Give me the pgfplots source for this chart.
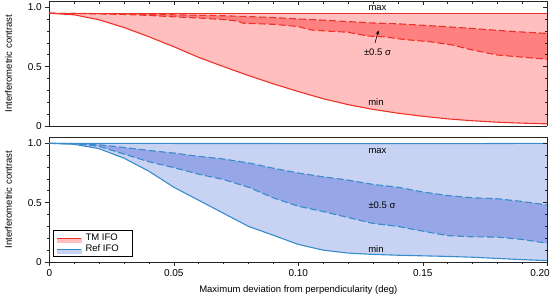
\documentclass[border=0pt]{standalone}
\usepackage{fontspec}
\setmainfont{Liberation Sans}
\usepackage{pgfplots}
\pgfplotsset{compat=1.18}
\usepgfplotslibrary{fillbetween}
\usetikzlibrary{arrows.meta}

\definecolor{redline}{RGB}{238,50,40}
\definecolor{redlight}{RGB}{255,191,191}
\definecolor{reddark}{RGB}{255,128,128}
\definecolor{blueline}{RGB}{55,140,205}
\definecolor{bluelight}{RGB}{200,210,242}
\definecolor{bluedark}{RGB}{150,166,230}

\newcommand{\fs}{\fontsize{9.5}{11}\selectfont}
\newcommand{\ft}{\fontsize{10}{12}\selectfont}

\pgfplotsset{
  panel/.style={scale only axis, width=498pt, height=124.6pt,
    xmin=0, xmax=0.2, ymin=0, ymax=1.05,
    axis line style={line width=0.8pt, black!85},
    tick style={line width=0.6pt, black!85},
    major tick length=4pt, minor tick length=2.5pt,
    ticklabel style={font=\ft},
    label style={font=\fs},
    /pgf/number format/assume math mode=true},
  outer/.style={panel, axis x line*=bottom, axis y line*=left, tick align=outside,
    ytick={0,0.5,1}, yticklabels={0,0.5,1.0}, minor y tick num=4},
  inner/.style={panel, axis x line*=top, axis y line*=right, tick align=inside,
    ytick={0,0.5,1}, yticklabels={}, minor y tick num=4, xticklabels={}},
  solidline/.style={line width=1.1pt},
  dashline/.style={line width=1.1pt, dash pattern=on 7pt off 3pt},
  every axis y label/.style={at={(axis description cs:-0.082,0.5)}, rotate=90, anchor=center},
  every axis x label/.style={at={(axis description cs:0.5,-0.225)}, anchor=center},
}

\begin{document}
\begin{tikzpicture}
% ---------------- top panel (TM IFO) ----------------
\begin{axis}[outer, at={(49.3pt,174pt)}, anchor=south west,
  xtick=\empty, ylabel={Interferometric contrast}]
\addplot[name path=rmax, redline, solidline] coordinates {(0,0.95) (0.2,0.95)};
\addplot[name path=rmin, redline, solidline] coordinates {
 (0,0.95) (0.01,0.937) (0.02,0.895) (0.03,0.83) (0.04,0.752) (0.05,0.668)
 (0.06,0.578) (0.07,0.50) (0.08,0.425) (0.09,0.355) (0.10,0.29) (0.11,0.23)
 (0.12,0.18) (0.13,0.14) (0.14,0.108) (0.15,0.082) (0.16,0.06) (0.17,0.044)
 (0.18,0.032) (0.19,0.024) (0.2,0.018)};
\addplot[name path=rup, redline, dashline] coordinates {
 (0,0.95) (0.01,0.949) (0.02,0.947) (0.03,0.944) (0.04,0.941) (0.05,0.937)
 (0.06,0.933) (0.07,0.929) (0.08,0.922) (0.09,0.914) (0.10,0.902) (0.11,0.892)
 (0.12,0.880) (0.13,0.868) (0.14,0.861) (0.15,0.849) (0.16,0.836) (0.17,0.822)
 (0.18,0.806) (0.19,0.792) (0.20,0.780)};
\addplot[name path=rlo, redline, dashline] coordinates {
 (0,0.95) (0.01,0.948) (0.02,0.945) (0.03,0.94) (0.04,0.932) (0.05,0.92)
 (0.06,0.91) (0.07,0.897) (0.075,0.885) (0.078,0.866) (0.09,0.857) (0.10,0.838)
 (0.105,0.81) (0.11,0.802) (0.12,0.79) (0.128,0.758) (0.135,0.75) (0.142,0.73)
 (0.153,0.71) (0.162,0.682) (0.17,0.64) (0.18,0.598) (0.188,0.584) (0.2,0.562)};
\addplot[redlight] fill between[of=rmax and rmin];
\addplot[reddark] fill between[of=rup and rlo];
\node[inner sep=0, font=\fs] at (axis cs:0.1318,0.995) {max};
\node[inner sep=0, font=\fs] at (axis cs:0.1318,0.6175) {±0.5 σ};
\node[inner sep=0, font=\fs] at (axis cs:0.1312,0.205) {min};
\draw[black, line width=0.6pt, -{Stealth[length=4pt,width=3.5pt]}] (axis cs:0.1308,0.699) -- (axis cs:0.1322,0.805);
\end{axis}
\begin{axis}[inner, at={(49.3pt,174pt)}, anchor=south west,
  xtick={0,0.05,0.1,0.15,0.2}, minor x tick num=4]
\end{axis}

% ---------------- bottom panel (Ref IFO) ----------------
\begin{axis}[outer, at={(49.3pt,38pt)}, anchor=south west,
  xtick={0,0.05,0.1,0.15,0.2},
  xticklabels={0,0.05,0.10,0.15,\llap{0.20\kern-2.5pt}},
  minor x tick num=4,
  ylabel={Interferometric contrast},
  xlabel={Maximum deviation from perpendicularity (deg)}]
\addplot[name path=bmax, blueline, solidline] coordinates {(0,1.0) (0.1,0.998) (0.16,0.997) (0.2,1.0)};
\addplot[name path=bmin, blueline, solidline] coordinates {
 (0,1.0) (0.01,0.992) (0.02,0.955) (0.03,0.875) (0.04,0.765) (0.05,0.63)
 (0.06,0.52) (0.07,0.41) (0.08,0.30) (0.09,0.225) (0.10,0.148) (0.11,0.10)
 (0.12,0.075) (0.13,0.064) (0.14,0.057) (0.15,0.052) (0.16,0.047) (0.17,0.04)
 (0.18,0.03) (0.19,0.02) (0.2,0.011)};
\addplot[name path=bup, blueline, dashline] coordinates {
 (0,1) (0.01,0.998) (0.02,0.988) (0.03,0.965) (0.04,0.94) (0.05,0.918)
 (0.06,0.89) (0.07,0.868) (0.08,0.835) (0.09,0.79) (0.10,0.75) (0.11,0.718)
 (0.12,0.69) (0.13,0.654) (0.14,0.63) (0.15,0.59) (0.16,0.56) (0.17,0.541)
 (0.18,0.533) (0.19,0.51) (0.2,0.48)};
\addplot[name path=blo, blueline, dashline] coordinates {
 (0,1) (0.01,0.995) (0.02,0.975) (0.03,0.91) (0.04,0.845) (0.05,0.795)
 (0.06,0.74) (0.07,0.695) (0.08,0.63) (0.09,0.54) (0.10,0.47) (0.11,0.425)
 (0.12,0.375) (0.13,0.325) (0.14,0.30) (0.15,0.26) (0.16,0.222) (0.17,0.212)
 (0.18,0.21) (0.19,0.19) (0.2,0.158)};
\addplot[bluelight] fill between[of=bmax and bmin];
\addplot[bluedark] fill between[of=bup and blo];
\node[inner sep=0, font=\fs] at (axis cs:0.1318,0.938) {max};
\node[inner sep=0, font=\fs] at (axis cs:0.1336,0.48) {±0.5 σ};
\node[inner sep=0, font=\fs] at (axis cs:0.1312,0.107) {min};
\end{axis}
\begin{axis}[inner, at={(49.3pt,38pt)}, anchor=south west,
  xtick=\empty,
  legend style={at={(rel axis cs:0.008,0.04)}, anchor=south west,
    draw=black, line width=0.6pt, fill=white, font=\fs,
    inner xsep=3pt, inner ysep=1.5pt, row sep=-1.5pt,
    nodes={inner xsep=4pt}},
  legend cell align=left]
\addlegendimage{legend image code/.code={
  \fill[redlight] (0pt,-4pt) rectangle (24pt,0pt);
  \draw[redline, line width=1pt] (0pt,0pt) -- (24pt,0pt);}}
\addlegendentry{TM IFO\hspace*{6pt}}
\addlegendimage{legend image code/.code={
  \fill[bluelight] (0pt,-4pt) rectangle (24pt,0pt);
  \draw[blueline, line width=1pt] (0pt,0pt) -- (24pt,0pt);}}
\addlegendentry{Ref IFO\hspace*{6pt}}
\end{axis}

\pgfresetboundingbox
\path[use as bounding box] (0,0) rectangle (550pt,300pt);
\end{tikzpicture}
\end{document}
